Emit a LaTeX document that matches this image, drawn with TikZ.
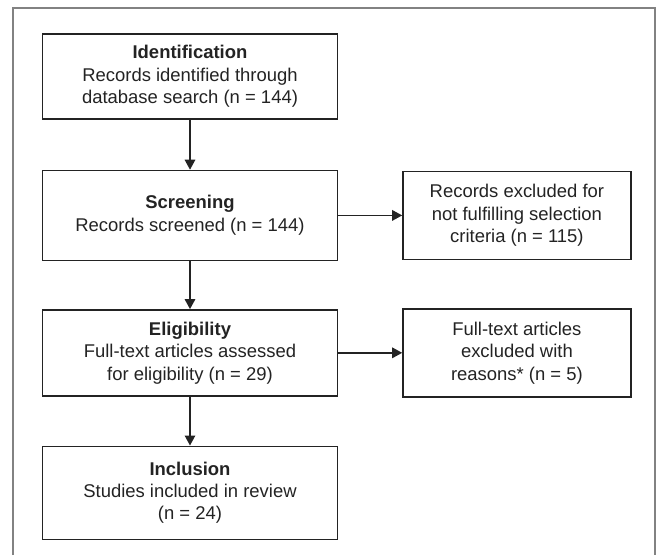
\documentclass[tikz,border=0pt]{standalone}
\usepackage{fontspec}
\setmainfont{Liberation Sans}
\usepackage{xcolor}
\usetikzlibrary{arrows.meta}
\usetikzlibrary{positioning, math}
\definecolor{myframe}{RGB}{130,130,130}
\definecolor{myink}{RGB}{35,35,35}

\begin{document}
\begin{tikzpicture}[
box/.style={draw=myink, line width=0.8pt, text=myink, align=center, inner sep=0pt, font=\fontsize{10.5}{12.8}\selectfont},
mainbox/.style={box, minimum width=5.9cm},
sidebox/.style={box, minimum width=4.56cm, minimum height=1.76cm},
arr/.style={-{Triangle[length=0.2cm,width=0.21cm]}, line width=0.8pt, draw=myink},
]
\tikzmath{
\W=13.18;
\H=11.1;
}
\useasboundingbox (0,0) rectangle (\W,-\H);
% frame, open at the bottom
\draw[myframe, line width=0.6pt] (0.26,-\H) |- (13.1,-0.16) -- (13.1,-\H);

\node[mainbox, minimum height=1.7cm] (ident) at (3.8,-1.53) {\textbf{Identification}\\Records identified through\\database search (n = 144)};
\node[mainbox, minimum height=1.8cm, below=1cm of ident] (screen) {\textbf{Screening}\\Records screened (n = 144)};
\node[mainbox, minimum height=1.72cm, below=0.96cm of screen] (elig) {\textbf{Eligibility}\\Full-text articles assessed\\for eligibility (n = 29)};
\node[mainbox, minimum height=1.86cm, below=0.98cm of elig] (incl) {\textbf{Inclusion}\\Studies included in review\\(n = 24)};

%%%%%%%%%%   excluded
\node[sidebox, right=1.28cm of screen] (exrec) {Records excluded for\\not fulfilling selection\\criteria (n = 115)};
\node[sidebox, right=1.28cm of elig] (exfull) {Full-text articles\\excluded with\\reasons* (n = 5)};

\draw[arr] (ident) -- (screen);
\draw[arr] (screen) -- (elig);
\draw[arr] (elig) -- (incl);
\draw[arr] (screen) -- (exrec);
\draw[arr] (elig) -- (exfull);
\end{tikzpicture}
\end{document}
